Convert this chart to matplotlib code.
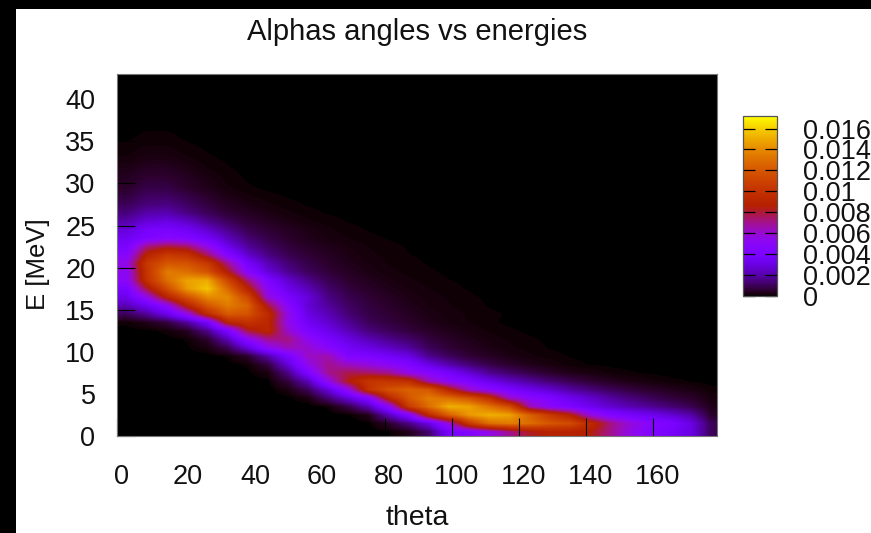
# Alphas angles vs energies - gnuplot style pm3d map
import numpy as np
import matplotlib
matplotlib.use("Agg")
import matplotlib.pyplot as plt
from matplotlib.patches import Rectangle
from matplotlib.transforms import ScaledTranslation

plt.rcParams["font.family"] = ["Liberation Sans", "DejaVu Sans"]

# Bin centres
theta_centers = [3, 9, 15, 21, 27, 33, 39, 45, 51, 57, 63, 69, 75, 81, 87, 93, 99, 105, 111, 117,
                 123, 129, 135, 141, 147, 153, 159, 165, 171, 177]
energy_centers = [e + 0.5 for e in range(43)]

# Density in units of 1e-4, one row per 1 MeV bin (estimated from the colours)
density_e4 = [
    [0, 0, 0, 0, 0, 0, 0, 0, 0, 0, 0, 0, 0, .5, 3, 12, 38, 45, 55, 70, 82, 88, 88, 85, 70, 55, 45, 38, 30, 10],
    [0, 0, 0, 0, 0, 0, 0, 0, 0, 0, 0, 0, .3, 5, 15, 30, 60, 105, 130, 135, 130, 120, 115, 95, 72, 58, 48, 42, 30, 10],
    [0, 0, 0, 0, 0, 0, 0, 0, 0, 0, 0, .3, 3, 22, 45, 95, 125, 145, 152, 148, 125, 105, 88, 58, 45, 38, 33, 27, 20, 5],
    [0, 0, 0, 0, 0, 0, 0, 0, 0, 0, 1, 8, 22, 50, 105, 130, 152, 148, 132, 115, 65, 50, 42, 33, 26, 21, 17, 13, 9, 3],
    [0, 0, 0, 0, 0, 0, 0, 0, .3, 2, 13, 28, 45, 92, 120, 135, 130, 118, 98, 62, 50, 43, 33, 26, 19, 14, 10, 7, 5, 2],
    [0, 0, 0, 0, 0, 0, 0, 0, 2, 10, 28, 55, 100, 118, 125, 120, 90, 62, 50, 40, 32, 26, 19, 14, 10, 7, 5, 3.5, 2.5, 1],
    [0, 0, 0, 0, 0, 0, 0, .3, 7, 22, 55, 85, 102, 102, 98, 65, 50, 42, 32, 24, 18, 13, 9, 6, 4, 2.5, 1.6, 1, .6, .3],
    [0, 0, 0, 0, 0, 0, .3, 2, 15, 42, 70, 78, 75, 70, 55, 47, 38, 27, 17, 12, 8, 5, 3, 2, 1.2, .8, .5, .3, .2, .1],
    [0, 0, 0, 0, 0, 0, 1, 7, 28, 55, 70, 62, 57, 50, 43, 30, 20, 13, 8, 5, 3, 2, 1, .6, .4, .3, .2, .2, .1, 0],
    [0, 0, 0, 0, 0, 1, 5, 20, 40, 62, 65, 44, 42, 36, 30, 16, 10, 6, 4, 2.5, 1.5, 1, .6, .4, .3, .2, .1, .1, 0, 0],
    [0, 0, .2, .5, 2, 9, 28, 52, 64, 60, 48, 36, 30, 24, 18, 10, 6, 4, 2.5, 1.5, 1, .6, .4, .3, .2, .1, .1, 0, 0, 0],
    [.1, .2, .3, .8, 5, 22, 50, 70, 72, 52, 40, 30, 22, 16, 12, 7, 4.5, 3, 1.8, 1.2, .8, .5, .3, .2, .1, .1, 0, 0, 0, 0],
    [.2, .4, 1, 4, 16, 40, 80, 92, 60, 42, 32, 22, 14, 10, 7, 4.5, 3, 2, 1.2, .8, .5, .3, .2, .1, .1, 0, 0, 0, 0, 0],
    [1, 3, 7, 18, 38, 90, 100, 92, 55, 35, 26, 17, 10, 7, 5, 3, 2, 1.3, .8, .5, .3, .2, .1, .1, 0, 0, 0, 0, 0, 0],
    [10, 18, 32, 55, 95, 122, 118, 95, 55, 30, 22, 13, 8, 6, 4, 2.5, 1.7, 1.2, .8, .6, .4, .3, .2, .1, 0, 0, 0, 0, 0, 0],
    [22, 34, 52, 90, 120, 135, 125, 80, 48, 27, 18, 11, 7, 5, 3, 2, 1.4, 1, .6, .5, .3, .2, .1, 0, 0, 0, 0, 0, 0, 0],
    [32, 55, 90, 118, 140, 140, 112, 58, 40, 28, 15, 9, 6, 4, 2.5, 1.7, 1.2, .8, .5, .4, .3, .2, .1, 0, 0, 0, 0, 0, 0, 0],
    [40, 80, 115, 145, 158, 128, 90, 50, 32, 22, 12, 7, 4.5, 3, 2, 1.3, .9, .6, .4, .3, .2, .1, 0, 0, 0, 0, 0, 0, 0, 0],
    [50, 100, 130, 148, 150, 112, 72, 42, 26, 16, 9, 5.5, 3.5, 2.2, 1.5, 1, .7, .5, .3, .2, .1, 0, 0, 0, 0, 0, 0, 0, 0, 0],
    [52, 102, 135, 130, 118, 85, 48, 28, 17, 10, 6.5, 4, 2.5, 1.6, 1.1, .8, .5, .4, .2, .1, 0, 0, 0, 0, 0, 0, 0, 0, 0, 0],
    [55, 105, 120, 118, 105, 70, 38, 22, 13, 8, 5, 3, 2, 1.3, .9, .6, .4, .3, .2, .1, 0, 0, 0, 0, 0, 0, 0, 0, 0, 0],
    [48, 90, 105, 100, 75, 46, 26, 15, 9, 6, 4, 2.5, 1.6, 1, .7, .5, .3, .2, .1, 0, 0, 0, 0, 0, 0, 0, 0, 0, 0, 0],
    [40, 72, 80, 75, 55, 32, 18, 11, 7, 4.5, 3, 2, 1.3, .9, .6, .4, .3, .2, .1, 0, 0, 0, 0, 0, 0, 0, 0, 0, 0, 0],
    [34, 43, 48, 44, 36, 23, 13, 8, 5, 3, 2, 1.3, .9, .6, .4, .3, .2, .1, 0, 0, 0, 0, 0, 0, 0, 0, 0, 0, 0, 0],
    [28, 38, 40, 35, 26, 16, 9, 6, 4, 2.5, 1.5, 1, .6, .4, .3, .2, .1, 0, 0, 0, 0, 0, 0, 0, 0, 0, 0, 0, 0, 0],
    [20, 28, 30, 25, 16, 10, 6, 4, 2.5, 1.5, 1, .6, .4, .3, .2, .1, 0, 0, 0, 0, 0, 0, 0, 0, 0, 0, 0, 0, 0, 0],
    [14, 20, 21, 15, 10, 6, 4, 2.5, 1.5, .9, .6, .4, .3, .2, .1, 0, 0, 0, 0, 0, 0, 0, 0, 0, 0, 0, 0, 0, 0, 0],
    [10, 14, 15, 11, 7, 4, 2.5, 1.5, .9, .6, .4, .3, .2, .1, 0, 0, 0, 0, 0, 0, 0, 0, 0, 0, 0, 0, 0, 0, 0, 0],
    [7, 11, 11, 8, 5, 2.5, 1.5, .9, .6, .4, .3, .2, .1, 0, 0, 0, 0, 0, 0, 0, 0, 0, 0, 0, 0, 0, 0, 0, 0, 0],
    [5, 8, 8, 5, 3, 1.5, .8, .5, .3, .2, .1, .1, 0, 0, 0, 0, 0, 0, 0, 0, 0, 0, 0, 0, 0, 0, 0, 0, 0, 0],
    [4, 6, 6, 4, 2.5, 1, .6, .4, .3, .2, .1, 0, 0, 0, 0, 0, 0, 0, 0, 0, 0, 0, 0, 0, 0, 0, 0, 0, 0, 0],
    [3, 4.5, 4.5, 3, 1.5, .8, .5, .3, .2, .1, 0, 0, 0, 0, 0, 0, 0, 0, 0, 0, 0, 0, 0, 0, 0, 0, 0, 0, 0, 0],
    [2, 3, 3, 2, 1, .6, .4, .2, .1, 0, 0, 0, 0, 0, 0, 0, 0, 0, 0, 0, 0, 0, 0, 0, 0, 0, 0, 0, 0, 0],
    [1.2, 2, 2, 1.2, .7, .4, .3, .2, .1, 0, 0, 0, 0, 0, 0, 0, 0, 0, 0, 0, 0, 0, 0, 0, 0, 0, 0, 0, 0, 0],
    [.8, 1.3, 1.3, .8, .5, .3, .2, .1, 0, 0, 0, 0, 0, 0, 0, 0, 0, 0, 0, 0, 0, 0, 0, 0, 0, 0, 0, 0, 0, 0],
    [.5, .9, .9, .5, .3, .2, .1, 0, 0, 0, 0, 0, 0, 0, 0, 0, 0, 0, 0, 0, 0, 0, 0, 0, 0, 0, 0, 0, 0, 0],
    [.4, .6, .6, .4, .2, .1, 0, 0, 0, 0, 0, 0, 0, 0, 0, 0, 0, 0, 0, 0, 0, 0, 0, 0, 0, 0, 0, 0, 0, 0],
    [.3, .4, .4, .3, .1, 0, 0, 0, 0, 0, 0, 0, 0, 0, 0, 0, 0, 0, 0, 0, 0, 0, 0, 0, 0, 0, 0, 0, 0, 0],
    [.2, .3, .3, .2, .1, 0, 0, 0, 0, 0, 0, 0, 0, 0, 0, 0, 0, 0, 0, 0, 0, 0, 0, 0, 0, 0, 0, 0, 0, 0],
    [.1, .2, .2, .1, 0, 0, 0, 0, 0, 0, 0, 0, 0, 0, 0, 0, 0, 0, 0, 0, 0, 0, 0, 0, 0, 0, 0, 0, 0, 0],
    [.1, .1, .1, 0, 0, 0, 0, 0, 0, 0, 0, 0, 0, 0, 0, 0, 0, 0, 0, 0, 0, 0, 0, 0, 0, 0, 0, 0, 0, 0],
    [0, 0, 0, 0, 0, 0, 0, 0, 0, 0, 0, 0, 0, 0, 0, 0, 0, 0, 0, 0, 0, 0, 0, 0, 0, 0, 0, 0, 0, 0],
    [0, 0, 0, 0, 0, 0, 0, 0, 0, 0, 0, 0, 0, 0, 0, 0, 0, 0, 0, 0, 0, 0, 0, 0, 0, 0, 0, 0, 0, 0],
]

x_ticks = [0, 20, 40, 60, 80, 100, 120, 140, 160]
y_ticks = [0, 5, 10, 15, 20, 25, 30, 35, 40]
cbar_ticks = [0, 0.002, 0.004, 0.006, 0.008, 0.01, 0.012, 0.014, 0.016]
cbar_labels = ["0", "0.002", "0.004", "0.006", "0.008", "0.01", "0.012", "0.014", "0.016"]
cbar_max = 0.0172

W, H = 871, 533
fig = plt.figure(figsize=(W / 100, H / 100), dpi=100, facecolor="white")


# rectangle given in picture pixels, y measured from the top
def px_axes(left, top, right, bottom):
    return fig.add_axes([left / W, 1 - bottom / H, (right - left) / W, (bottom - top) / H])


# black strips on the left and top of the screenshot
fig.add_artist(Rectangle((0, 0), 16 / W, 1, transform=fig.transFigure, color="black", lw=0))
fig.add_artist(Rectangle((0, 1 - 9 / H), 1, 9 / H, transform=fig.transFigure, color="black", lw=0))

# main map
ax = px_axes(117, 74, 717, 436)
z = np.array(density_e4) * 1e-4
dx = theta_centers[1] - theta_centers[0]
dy = energy_centers[1] - energy_centers[0]
im = ax.imshow(z, origin="lower", aspect="auto", cmap="gnuplot", vmin=0, vmax=cbar_max,
               interpolation="bilinear",
               extent=[theta_centers[0] - dx / 2, theta_centers[-1] + dx / 2,
                       energy_centers[0] - dy / 2, energy_centers[-1] + dy / 2])
ax.set_xlim(0, 179)
ax.set_ylim(0, 43)
ax.set_xticks(x_ticks)
ax.set_yticks(y_ticks)
ax.tick_params(axis="both", direction="in", length=13, width=0.8, color="black",
               labelsize=19.5, labelcolor="#111111")
ax.tick_params(axis="x", pad=20.5)
ax.tick_params(axis="y", pad=15.5)
for lab in ax.get_xticklabels():
    lab.set_transform(lab.get_transform() + ScaledTranslation(4 / 100, 0, fig.dpi_scale_trans))
for side in ax.spines.values():
    side.set_color("#777777")
    side.set_linewidth(0.8)

# colour bar
cax = px_axes(743, 116, 777, 296)
cb = fig.colorbar(im, cax=cax)
cb.set_ticks(cbar_ticks)
cb.set_ticklabels(cbar_labels)
cb.ax.tick_params(axis="y", left=True, right=True, direction="in", length=8.5, width=0.9,
                  color="black", labelsize=19.5, pad=19, labelcolor="#111111")
cb.outline.set_edgecolor("#555555")
cb.outline.set_linewidth(0.9)

fig.text(417 / W, 1 - 32 / H, "Alphas angles vs energies", ha="center", va="center", fontsize=21, color="#111111")
fig.text(417 / W, 1 - 518 / H, "theta", ha="center", va="center", fontsize=20.5, color="#111111")
fig.text(38 / W, 1 - 264 / H, "E [MeV]", ha="center", va="center", rotation=90, fontsize=18.5, color="#111111")

fig.savefig("out.png", dpi=100)
